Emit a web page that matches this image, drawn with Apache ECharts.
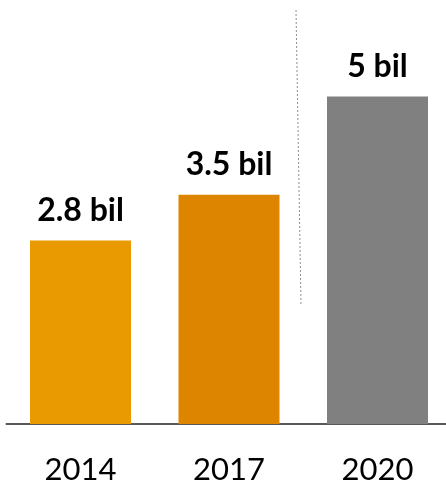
<!DOCTYPE html>
<html>
<head>
<meta charset="utf-8">
<script src="https://cdn.jsdelivr.net/npm/echarts@6/dist/echarts.min.js"></script>
<style>
  html, body { margin: 0; padding: 0; background: #fff; }
  #chart { width: 446px; height: 483px; }
</style>
</head>
<body>
<div id="chart"></div>
<script>
// Years and their values (billions)
const years = ['2014', '2017', '2020'];
const values = [2.8, 3.5, 5];
const valueLabels = ['2.8 bil', '3.5 bil', '5 bil'];
const barColors = ['#E89A00', '#DE8500', '#808080'];

const chart = echarts.init(document.getElementById('chart'));

chart.setOption({
  animation: false,
  grid: {
    left: 6.25, width: 445.5, top: 31, height: 393,
    containLabel: false,
    outerBoundsMode: 'none'
  },
  xAxis: {
    type: 'category',
    data: years,
    axisLine: { show: true, lineStyle: { color: '#222', width: 1.5 } },
    axisTick: { show: false },
    axisLabel: {
      margin: 30,
      fontFamily: 'Lato',
      fontSize: 31,
      color: '#000'
    }
  },
  yAxis: {
    type: 'value',
    min: 0,
    max: 6,
    show: false,
    splitLine: { show: false }
  },
  series: [{
    type: 'bar',
    barWidth: 101,
    data: values.map((v, i) => ({
      value: v,
      itemStyle: { color: barColors[i] },
      label: { formatter: valueLabels[i] }
    })),
    label: {
      show: true,
      position: 'top',
      distance: 14,
      fontFamily: 'Lato',
      fontWeight: 'bold',
      fontSize: 32,
      color: '#000'
    }
  }],
  graphic: [{
    // dotted divider between the historic years and the projection
    type: 'line',
    shape: { x1: 296, y1: 10, x2: 301, y2: 305 },
    style: { stroke: '#8c8c8c', lineWidth: 1, lineDash: [2, 2] },
    silent: true
  }]
});
</script>
</body>
</html>
